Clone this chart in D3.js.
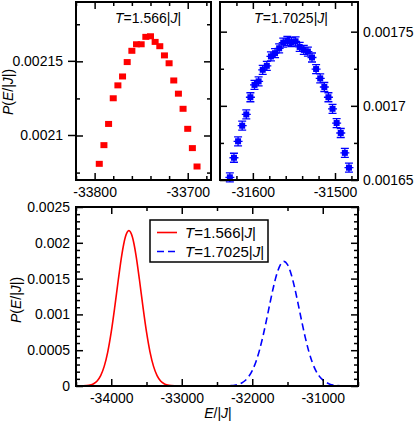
<!DOCTYPE html>
<html>
<head>
<meta charset="utf-8">
<script src="https://cdn.jsdelivr.net/npm/d3@7"></script>
<style>
  body { margin: 0; background: #fff; }
  svg text { font-family: "Liberation Sans", Arial, sans-serif; font-size: 14px; fill: #000; }
</style>
</head>
<body>
<svg width="415" height="422"></svg>
<script>
// ---- data ----
// top-left inset, T = 1.566|J|
const lowE = [-33795, -33790, -33785, -33780, -33775, -33770, -33765, -33760, -33755, -33750, -33745,
  -33740, -33735, -33730, -33725, -33720, -33715, -33710, -33705, -33700, -33695, -33690];
const lowP = [0.0020809, 0.0020935, 0.0021078, 0.0021251, 0.0021338, 0.0021398, 0.0021495, 0.0021571,
  0.0021615, 0.0021615, 0.0021665, 0.0021669, 0.0021631, 0.0021602, 0.002154, 0.0021487, 0.0021371,
  0.0021282, 0.002118, 0.0021045, 0.0020915, 0.0020791];

// top-right inset, T = 1.7025|J|
const highE = [-31628, -31623, -31618, -31613, -31608, -31603, -31598, -31593, -31588, -31583, -31578,
  -31573, -31568, -31563, -31558, -31553, -31548, -31543, -31538, -31533, -31528, -31523, -31518,
  -31513, -31508, -31503, -31498, -31493, -31488, -31483];
const highP = [0.0016518, 0.001665, 0.0016761, 0.0016866, 0.0016942, 0.0017058, 0.0017141, 0.0017165,
  0.0017243, 0.001727, 0.0017333, 0.0017355, 0.0017388, 0.0017426, 0.0017437, 0.001743, 0.0017435,
  0.0017397, 0.0017377, 0.0017366, 0.0017326, 0.0017248, 0.0017185, 0.0017127, 0.0017058, 0.001698,
  0.0016884, 0.0016817, 0.0016683, 0.0016583];

// bottom panel, full distributions
const curveLowE = [-34500, -34450, -34400, -34350, -34300, -34250, -34200, -34150, -34100, -34050, -34000,
  -33950, -33900, -33850, -33800, -33750, -33700, -33650, -33600, -33550, -33500, -33450, -33400,
  -33350, -33300, -33250, -33200, -33150, -33100, -33050, -33000, -30500];
const curveLowP = [0, 0.0000006, 0.0000017, 0.000005, 0.0000131, 0.0000317, 0.0000708, 0.000145, 0.000274,
  0.000474, 0.000755, 0.001104, 0.001484, 0.001833, 0.00208, 0.00217, 0.00208, 0.001833, 0.001484,
  0.001104, 0.000755, 0.000474, 0.000274, 0.000145, 0.0000708, 0.0000317, 0.0000131, 0.000005,
  0.0000017, 0.0000006, 0, 0];
const curveHighE = [-34500, -32450, -32350, -32300, -32250, -32200, -32150, -32100, -32050, -32000, -31950,
  -31900, -31850, -31800, -31750, -31700, -31650, -31600, -31550, -31500, -31450, -31400, -31350,
  -31300, -31250, -31200, -31150, -31100, -31050, -31000, -30950, -30900, -30850, -30800, -30750,
  -30650, -30500];
const curveHighP = [0, 0.0000004, 0.0000023, 0.0000052, 0.000011, 0.0000222, 0.0000423, 0.0000764,
  0.000132, 0.000215, 0.000333, 0.000491, 0.000687, 0.000912, 0.001151, 0.001379, 0.001569, 0.001696,
  0.00174, 0.001696, 0.001569, 0.001379, 0.001151, 0.000912, 0.000687, 0.000491, 0.000335, 0.000218,
  0.000138, 0.0000850, 0.000050, 0.000026, 0.000012, 0.0000055, 0.0000023, 0.0000004, 0];

// ticks
const tlXMajor = [-33800, -33700];
const tlXMinor = [-33820, -33780, -33760, -33740, -33720, -33680];
const tlYMajor = [0.0021, 0.00215];
const tlYMinor = [0.002075, 0.002125, 0.002175];
const trXMajor = [-31600, -31500];
const trXMinor = [-31620, -31580, -31560, -31540, -31520, -31480];
const trYMajor = [0.00165, 0.0017, 0.00175];
const trYMinor = [0.001675, 0.001725];
const bXMajor = [-34000, -33000, -32000, -31000];
const bXMinor = [-34500, -33500, -32500, -31500, -30500];
const bYMajor = [0, 0.0005, 0.001, 0.0015, 0.002, 0.0025];
const bYMinor = [0.0001, 0.0002, 0.0003, 0.0004, 0.0006, 0.0007, 0.0008, 0.0009, 0.0011, 0.0012, 0.0013,
  0.0014, 0.0016, 0.0017, 0.0018, 0.0019, 0.0021, 0.0022, 0.0023, 0.0024];

const svg = d3.select('svg');

// scales
const xTL = d3.scaleLinear().domain([-33820, -33675]).range([76, 211]);
const yTL = d3.scaleLinear().domain([0.00207, 0.00219]).range([180, 2]);
const xTR = d3.scaleLinear().domain([-31640, -31472]).range([220, 358]);
const yTR = d3.scaleLinear().domain([0.00165, 0.00177]).range([180, 2]);
const xB = d3.scaleLinear().domain([-34500, -30500]).range([76, 358]);
const yB = d3.scaleLinear().domain([0, 0.0025]).range([386, 207]);

const fmt = (d) => String(d);

// draws mirrored inward ticks on all four sides + frame
function frame(x, y, o) {
  const g = svg.append('g');
  const [x0, x1] = x.range();
  const [y1, y0] = y.range();
  function ax(axis, tx, ty, vals, size, labels, pad) {
    const a = axis.tickValues(vals).tickSize(-size).tickPadding(pad || 3)
      .tickFormat(labels ? fmt : '');
    const sel = g.append('g').attr('transform', `translate(${tx},${ty})`).call(a);
    sel.select('.domain').remove();
    sel.selectAll('line').attr('stroke', '#000').attr('stroke-width', 1.5);
    sel.selectAll('text').attr('font-size', null).attr('font-family', null).attr('fill', null);
    return sel;
  }
  ax(d3.axisBottom(x), 0, y1, o.xMajor, 7, true, 7);
  ax(d3.axisBottom(x), 0, y1, o.xMinor, 4, false);
  ax(d3.axisTop(x), 0, y0, o.xMajor, 7, false);
  ax(d3.axisTop(x), 0, y0, o.xMinor, 4, false);
  ax(d3.axisLeft(y), x0, 0, o.yMajor, 7, o.yLeft, o.yPad);
  ax(d3.axisLeft(y), x0, 0, o.yMinor, 4, false);
  ax(d3.axisRight(y), x1, 0, o.yMajor, 7, !o.yLeft, o.yPad);
  ax(d3.axisRight(y), x1, 0, o.yMinor, 4, false);
  if (o.outTicks) {
    o.yMajor.forEach((v) => g.append('line')
      .attr('x1', x0 - 8).attr('x2', x0).attr('y1', y(v)).attr('y2', y(v))
      .attr('stroke', '#000').attr('stroke-width', 1.5));
  }
  g.append('rect').attr('x', x0).attr('y', y0).attr('width', x1 - x0).attr('height', y1 - y0)
    .attr('fill', 'none').attr('stroke', '#000').attr('stroke-width', 2);
}

// P(E/|J|) label
function pLabel(tx, ty) {
  const t = svg.append('text').attr('transform', `translate(${tx},${ty}) rotate(-90)`)
    .attr('text-anchor', 'middle');
  t.append('tspan').attr('font-style', 'italic').text('P');
  t.append('tspan').text('(');
  t.append('tspan').attr('font-style', 'italic').text('E');
  t.append('tspan').text('/|');
  t.append('tspan').attr('font-style', 'italic').text('J');
  t.append('tspan').text('|)');
}

function tLabel(sel, value) {
  sel.append('tspan').attr('font-style', 'italic').text('T');
  sel.append('tspan').text('=' + value + '|');
  sel.append('tspan').attr('font-style', 'italic').text('J');
  sel.append('tspan').text('|');
}

// ---- top-left inset ----
const gTL = svg.append('g');
gTL.selectAll('rect').data(lowE).join('rect')
  .attr('x', (d) => xTL(d) - 3.5).attr('y', (d, i) => yTL(lowP[i]) - 3)
  .attr('width', 7).attr('height', 6).attr('fill', '#ff0000');
frame(xTL, yTL, { xMajor: tlXMajor, xMinor: tlXMinor, yMajor: tlYMajor, yMinor: tlYMinor,
  yLeft: true, yPad: 13, outTicks: true });
tLabel(svg.append('text').attr('x', 148).attr('y', 23).attr('text-anchor', 'middle'), '1.566');
pLabel(13, 92);

// ---- top-right inset ----
const gTR = svg.append('g');
const hi = gTR.selectAll('g').data(highE).join('g')
  .attr('transform', (d, i) => `translate(${xTR(d)},${yTR(highP[i])})`);
hi.append('rect').attr('x', -3).attr('y', -3).attr('width', 6).attr('height', 6).attr('fill', '#0000ff');
hi.append('path').attr('d', 'M-4,-4.5H4M0,-4.5V4.5M-4,4.5H4M-4.5,0H4.5')
  .attr('stroke', '#0000ff').attr('stroke-width', 1.3);
frame(xTR, yTR, { xMajor: trXMajor, xMinor: trXMinor, yMajor: trYMajor, yMinor: trYMinor,
  yLeft: false, yPad: 5 });
tLabel(svg.append('text').attr('x', 291).attr('y', 23).attr('text-anchor', 'middle'), '1.7025');

// ---- bottom panel ----
const line = d3.line().x((d) => xB(d[0])).y((d) => yB(d[1])).curve(d3.curveMonotoneX);
svg.append('path').datum(curveLowE.map((e, i) => [e, curveLowP[i]]))
  .attr('d', line).attr('fill', 'none').attr('stroke', '#ff0000').attr('stroke-width', 1.6);
svg.append('path').datum(curveHighE.map((e, i) => [e, curveHighP[i]]))
  .attr('d', line).attr('fill', 'none').attr('stroke', '#0000ff').attr('stroke-width', 1.6)
  .attr('stroke-dasharray', '7,4');
frame(xB, yB, { xMajor: bXMajor, xMinor: bXMinor, yMajor: bYMajor, yMinor: bYMinor,
  yLeft: true, yPad: 6 });
pLabel(21, 300);
const xl = svg.append('text').attr('x', 218).attr('y', 418).attr('text-anchor', 'middle');
xl.append('tspan').attr('font-style', 'italic').text('E');
xl.append('tspan').text('/|');
xl.append('tspan').attr('font-style', 'italic').text('J');
xl.append('tspan').text('|');

// legend
const lg = svg.append('g');
lg.append('rect').attr('x', 150).attr('y', 220).attr('width', 118).attr('height', 42)
  .attr('fill', '#fff').attr('stroke', '#000').attr('stroke-width', 1.5);
lg.append('line').attr('x1', 157).attr('x2', 177).attr('y1', 232.5).attr('y2', 232.5)
  .attr('stroke', '#ff0000').attr('stroke-width', 1.6);
lg.append('line').attr('x1', 157).attr('x2', 177).attr('y1', 251.5).attr('y2', 251.5)
  .attr('stroke', '#0000ff').attr('stroke-width', 1.6).attr('stroke-dasharray', '7,4');
tLabel(lg.append('text').attr('x', 185).attr('y', 237.5).style('font-size', '15px'), '1.566');
tLabel(lg.append('text').attr('x', 185).attr('y', 256.5).style('font-size', '15px'), '1.7025');
</script>
</body>
</html>
